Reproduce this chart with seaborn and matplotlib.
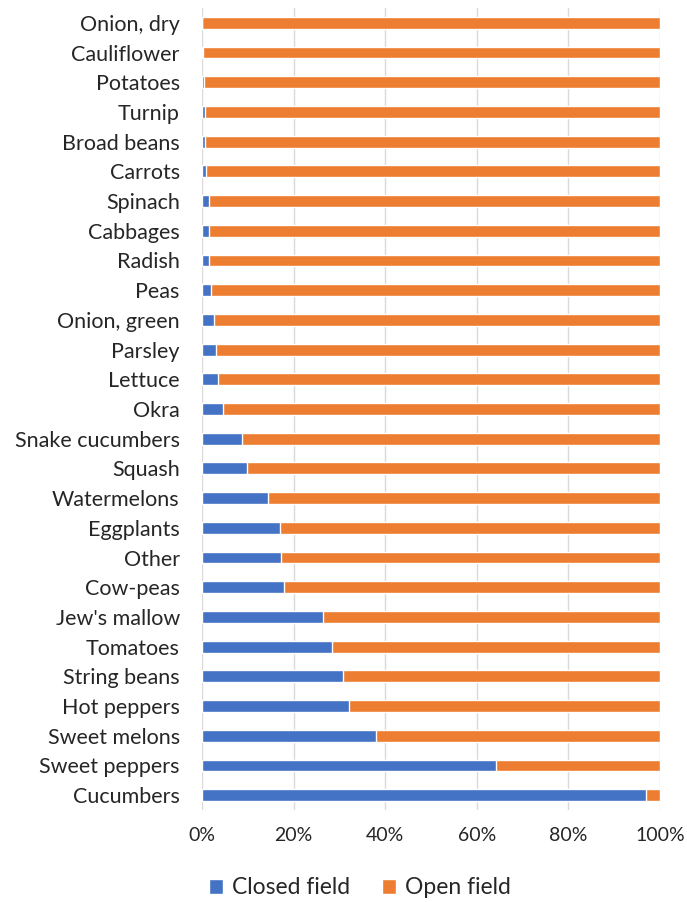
import matplotlib
matplotlib.use("Agg")
import matplotlib.pyplot as plt
import seaborn as sns
import pandas as pd
from matplotlib.patches import Patch

crops = ["Onion, dry", "Cauliflower", "Potatoes", "Turnip", "Broad beans", "Carrots",
         "Spinach", "Cabbages", "Radish", "Peas", "Onion, green", "Parsley", "Lettuce",
         "Okra", "Snake cucumbers", "Squash", "Watermelons", "Eggplants", "Other",
         "Cow-peas", "Jew's mallow", "Tomatoes", "String beans", "Hot peppers",
         "Sweet melons", "Sweet peppers", "Cucumbers"]
closed_pct = [0.1, 0.3, 0.4, 0.6, 0.7, 0.9, 1.5, 1.5, 1.6, 1.9, 2.6, 3.1, 3.6, 4.6,
              8.7, 9.8, 14.4, 17.1, 17.2, 17.9, 26.5, 28.4, 30.8, 32.2, 38.1, 64.3, 96.9]
open_pct = [100 - c for c in closed_pct]

df = pd.DataFrame({"crop": crops, "closed": closed_pct, "open": open_pct})
df["total"] = df["closed"] + df["open"]

sns.set_theme(style="white")
plt.rcParams["font.family"] = ["Lato", "DejaVu Sans"]

blue = "#4472C4"
orange = "#ED7D31"

fig = plt.figure(figsize=(6.87, 9.02), dpi=100)
ax = fig.add_axes([202 / 687, 1 - 810 / 902, 458 / 687, 802 / 902])

sns.barplot(data=df, y="crop", x="total", color=orange, width=0.4,
            saturation=1, ax=ax, orient="h", zorder=3)
sns.barplot(data=df, y="crop", x="closed", color=blue, width=0.4,
            saturation=1, ax=ax, orient="h", zorder=4)

ax.set_xlim(0, 100)
ax.set_ylim(len(crops) - 0.5, -0.5)
ax.set_xticks([0, 20, 40, 60, 80, 100])
ax.set_xticklabels([f"{t}%" for t in [0, 20, 40, 60, 80, 100]], fontsize=14, color="#262626")
ax.tick_params(axis="y", labelsize=15.5, labelcolor="#262626", length=0, pad=16)
ax.tick_params(axis="x", length=0, pad=12)
ax.set_xlabel("")
ax.set_ylabel("")
ax.grid(axis="x", color="#d9d9d9", linewidth=1, zorder=0)
ax.set_axisbelow(True)
for s in ax.spines.values():
    s.set_visible(False)

handles = [Patch(facecolor=blue, label="Closed field"), Patch(facecolor=orange, label="Open field")]
fig.legend(handles=handles, loc="center", bbox_to_anchor=(360 / 687, 1 - 888 / 902),
           ncol=2, frameon=False, fontsize=16.5, handlelength=0.6, handleheight=0.6,
           handletextpad=0.4, columnspacing=1.4, labelcolor="#262626")

fig.savefig("out.png", dpi=100)
